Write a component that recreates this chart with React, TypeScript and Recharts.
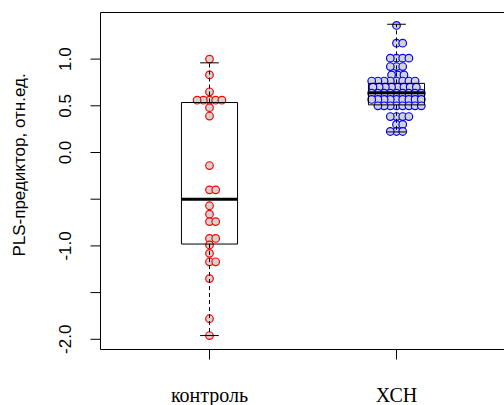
import * as React from "react";
import {ComposedChart, XAxis, YAxis, Scatter, ReferenceLine, ReferenceArea} from "recharts";

// groups and values
const groups = ["контроль", "ХСН"];
const groupPos = [1, 2];
const controlValues = [1.0, 0.83, 0.65, 0.56, 0.56, 0.56, 0.56, 0.56, 0.48, 0.39, -0.14, -0.4, -0.4, -0.57, -0.66,
    -0.74, -0.74, -0.92, -0.92, -0.99, -1.08, -1.17, -1.17, -1.35, -1.78, -1.96];
const xchValues = [1.36, 1.17, 1.17, 1.01, 1.01, 1.01, 1.01, 0.92, 0.92, 0.92, 0.83, 0.83, 0.83,
    0.765, 0.765, 0.765, 0.765, 0.765, 0.765, 0.765, 0.765,
    0.7, 0.7, 0.7, 0.7, 0.7, 0.7, 0.7, 0.7,
    0.635, 0.635, 0.635, 0.635, 0.635, 0.635, 0.635, 0.635, 0.635,
    0.568, 0.568, 0.568, 0.568, 0.568, 0.568, 0.568, 0.568, 0.568,
    0.5, 0.5, 0.5, 0.5, 0.5, 0.5, 0.5, 0.5,
    0.385, 0.385, 0.385, 0.385, 0.3, 0.3, 0.225, 0.225, 0.225];

// box plot statistics
const whiskerLow = [-1.96, 0.22];
const q1 = [-0.98, 0.51];
const medians = [-0.5, 0.64];
const q3 = [0.535, 0.74];
const whiskerHigh = [0.96, 1.373];

const yTicks = [-2, -1.5, -1, -0.5, 0, 0.5, 1];
const yTickLabels = ["-2.0", "", "-1.0", "", "0.0", "0.5", "1.0"];

const W = 510;
const H = 405;
const Y_AXIS_W = 60;
const X_AXIS_H = 55.5;
const margin = {top: 12.5, right: 4.5, left: 40.5, bottom: 0};
const X_DOMAIN = [0.4171, 2.5829];
const Y_DOMAIN = [-2.1092, 1.4989];

const plotW = W - margin.left - margin.right - Y_AXIS_W;
const plotH = H - margin.top - margin.bottom - X_AXIS_H;
const pxPerX = plotW / (X_DOMAIN[1] - X_DOMAIN[0]);
const pxPerY = plotH / (Y_DOMAIN[1] - Y_DOMAIN[0]);

const SPACING = 6.2; // px between point centres
const BOX_HALF = 0.15;
const CAP_HALF = 0.05;

// beeswarm "swarm" layout, ascending priority
function swarm(values: number[]) {
    const order = values.map((_, i) => i).sort((a, b) => values[a] - values[b]);
    const xs = new Array(values.length).fill(0);
    const placed: number[] = [];
    order.forEach(i => {
        const yi = values[i] * pxPerY;
        const near = placed.filter(j => Math.abs(values[j] * pxPerY - yi) < SPACING);
        const cands = [0];
        near.forEach(j => {
            const dy = values[j] * pxPerY - yi;
            cands.push(xs[j] + Math.sqrt(SPACING * SPACING - dy * dy));
        });
        near.forEach(j => {
            const dy = values[j] * pxPerY - yi;
            cands.push(xs[j] - Math.sqrt(SPACING * SPACING - dy * dy));
        });
        let best = Infinity;
        cands.forEach(c => {
            const ok = near.every(j => {
                const dy = values[j] * pxPerY - yi;
                return (c - xs[j]) ** 2 + dy * dy >= SPACING * SPACING - 1e-6;
            });
            if (ok && Math.abs(c) < Math.abs(best)) best = c;
        });
        xs[i] = best;
        placed.push(i);
    });
    return xs;
}

const toPoints = (values: number[], pos: number) => {
    const offs = swarm(values);
    return values.map((v, i) => ({x: pos + offs[i] / pxPerX, y: v}));
};

const controlPoints = toPoints(controlValues, groupPos[0]);
const xchPoints = toPoints(xchValues, groupPos[1]);

const dot = (stroke: string) => (props: any) =>
    <circle cx={props.cx} cy={props.cy} r={3.8} fill="#d3d3d3" stroke={stroke} strokeWidth={1.2}/>;

const YTick = (props: any) => {
    const label = yTickLabels[yTicks.indexOf(props.payload.value)];
    if (!label) return <g/>;
    return (
        <text x={71} y={props.y} transform={`rotate(-90, 71, ${props.y})`} textAnchor="middle"
              fontFamily="'Liberation Sans', Arial, sans-serif" fontSize={17} fill="#000">{label}</text>
    );
};

const XTick = (props: any) => {
    const label = groups[groupPos.indexOf(props.payload.value)];
    return (
        <text x={props.x} y={402} textAnchor="middle"
              fontFamily="'Liberation Serif', 'Times New Roman', serif" fontSize={20} fill="#000">{label}</text>
    );
};

export default function App() {
    return (
        <div style={{position: "fixed", left: 0, top: 0, width: 504, height: 405, overflow: "hidden", background: "#fff"}}>
            <ComposedChart width={W} height={H} margin={margin}>
                <XAxis type="number" dataKey="x" domain={X_DOMAIN} allowDataOverflow ticks={groupPos} interval={0}
                       height={X_AXIS_H} axisLine={false} tickSize={10} tickLine={{stroke: "#000"}} tick={<XTick/>}/>
                <YAxis type="number" dataKey="y" domain={Y_DOMAIN} allowDataOverflow ticks={yTicks} interval={0}
                       width={Y_AXIS_W} axisLine={false} tickSize={10} tickLine={{stroke: "#000"}} tick={<YTick/>}/>
                <Scatter data={controlPoints} shape={dot("#ff0000")} isAnimationActive={false}/>
                <Scatter data={xchPoints} shape={dot("#0000ff")} isAnimationActive={false}/>
                {groupPos.map((g, i) => (
                    <ReferenceArea key={"box" + i} x1={g - BOX_HALF} x2={g + BOX_HALF} y1={q1[i]} y2={q3[i]}
                                   stroke="#000" strokeWidth={1} fill="none" zIndex={1000}/>
                ))}
                {groupPos.map((g, i) => (
                    <ReferenceLine key={"wl" + i} segment={[{x: g, y: q1[i]}, {x: g, y: whiskerLow[i]}]}
                                   stroke="#000" strokeDasharray="4 3" zIndex={1000}/>
                ))}
                {groupPos.map((g, i) => (
                    <ReferenceLine key={"wh" + i} segment={[{x: g, y: q3[i]}, {x: g, y: whiskerHigh[i]}]}
                                   stroke="#000" strokeDasharray="4 3" zIndex={1000}/>
                ))}
                {groupPos.map((g, i) => (
                    <ReferenceLine key={"cl" + i} segment={[{x: g - CAP_HALF, y: whiskerLow[i]}, {x: g + CAP_HALF, y: whiskerLow[i]}]}
                                   stroke="#000" zIndex={1000}/>
                ))}
                {groupPos.map((g, i) => (
                    <ReferenceLine key={"ch" + i} segment={[{x: g - CAP_HALF, y: whiskerHigh[i]}, {x: g + CAP_HALF, y: whiskerHigh[i]}]}
                                   stroke="#000" zIndex={1000}/>
                ))}
                {groupPos.map((g, i) => (
                    <ReferenceLine key={"md" + i} segment={[{x: g - BOX_HALF, y: medians[i]}, {x: g + BOX_HALF, y: medians[i]}]}
                                   stroke="#000" strokeWidth={3} zIndex={1000}/>
                ))}
                <ReferenceArea x1={X_DOMAIN[0]} x2={X_DOMAIN[1]} y1={Y_DOMAIN[0]} y2={Y_DOMAIN[1]}
                               stroke="#000" strokeWidth={1} fill="none" zIndex={1000}/>
                <text x={25} y={165} transform="rotate(-90, 25, 165)" textAnchor="middle"
                      fontFamily="'Liberation Sans', Arial, sans-serif" fontSize={17} fill="#000">PLS-предиктор, отн.ед.</text>
            </ComposedChart>
        </div>
    );
}
